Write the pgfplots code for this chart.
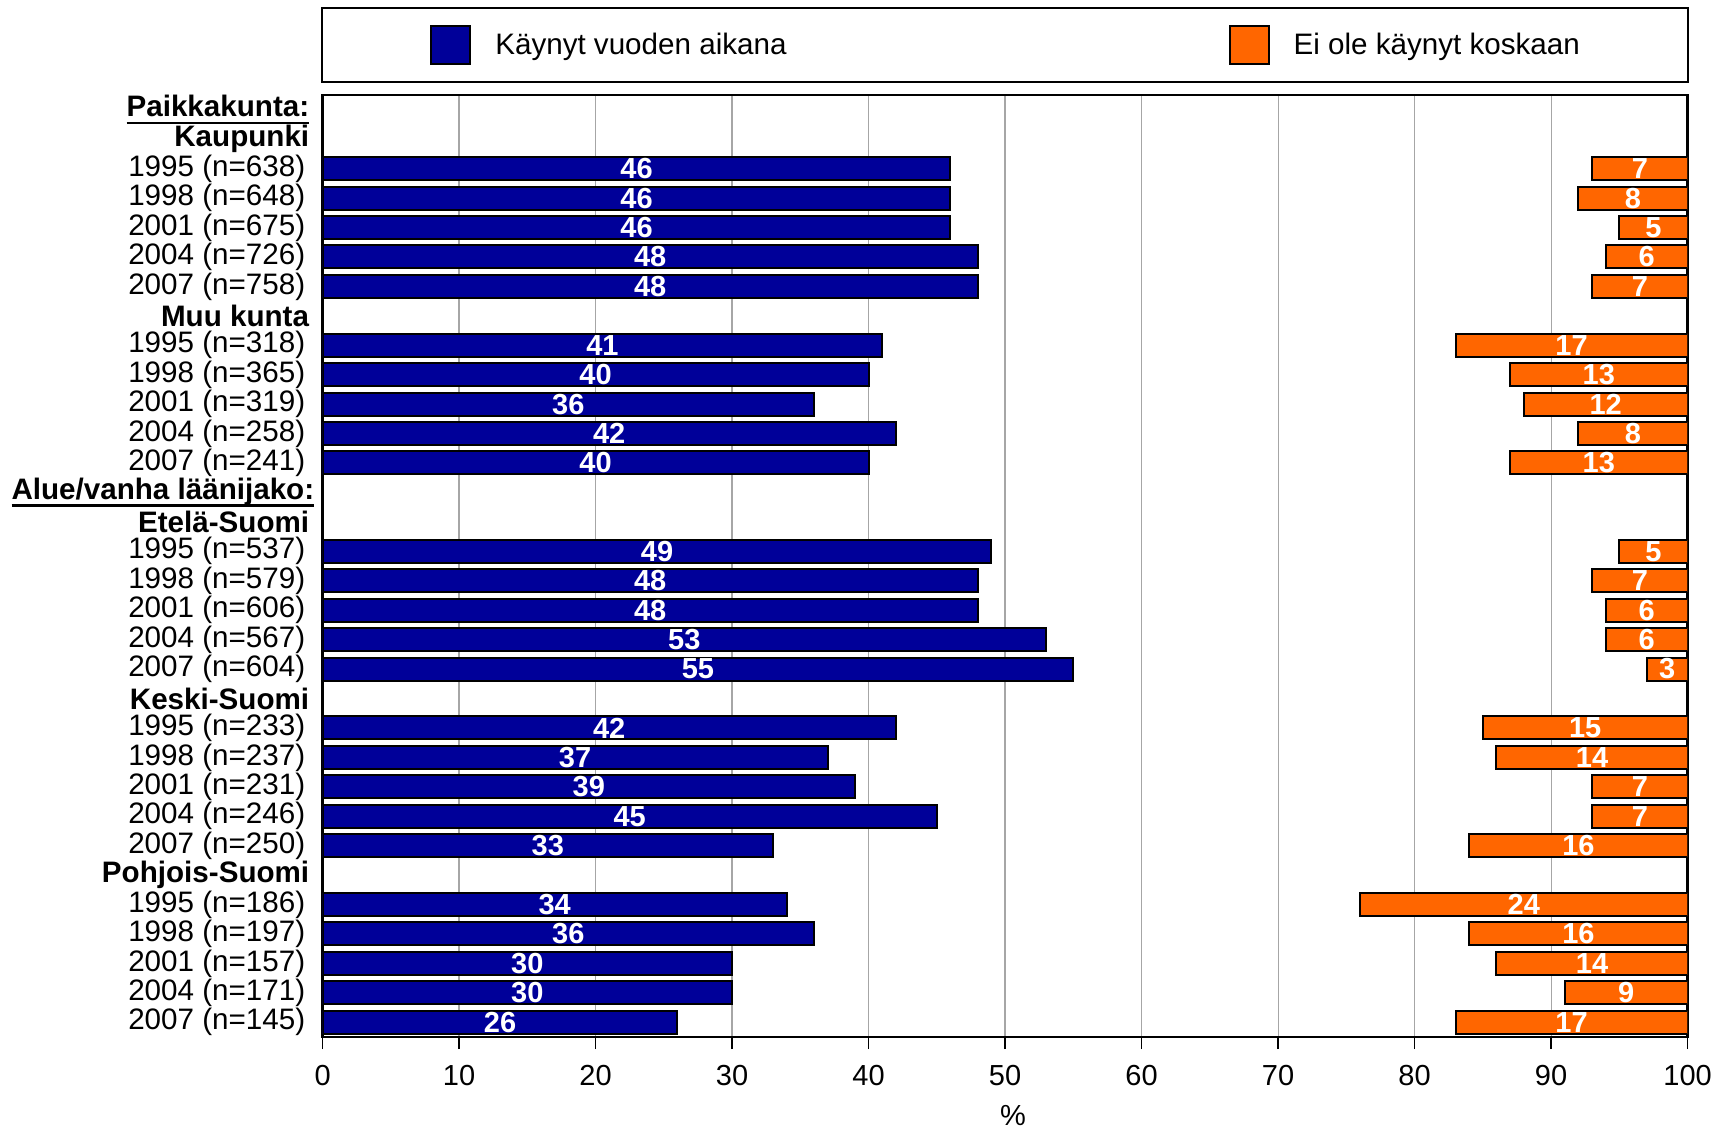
\documentclass[border=0pt]{standalone}
\usepackage{pgfplots}
\usepackage{pgfplotstable}
\pgfplotsset{compat=1.18}
\usepackage{fontspec}
\setmainfont{Liberation Sans}
\definecolor{navyc}{RGB}{0,0,153}
\definecolor{orangec}{RGB}{255,102,0}
\newcommand\ul[1]{\setbox0=\hbox{#1}\rlap{\rule[-4pt]{\wd0}{1.4pt}}\box0}
\newcommand\hd[1]{\textbf{#1}\kern-2pt}
\pgfplotsset{sq legend/.style={legend image code/.code={\draw[##1, line width=1pt] (0pt,-9.5pt) rectangle (19.5pt,9.5pt);}}}

\pgfplotstableread{
row blue orange
3 46 7
4 46 8
5 46 5
6 48 6
7 48 7
9 41 17
10 40 13
11 36 12
12 42 8
13 40 13
16 49 5
17 48 7
18 48 6
19 53 6
20 55 3
22 42 15
23 37 14
24 39 7
25 45 7
26 33 16
28 34 24
29 36 16
30 30 14
31 30 9
32 26 17
}\datatable

\begin{document}
\begin{tikzpicture}
\path[use as bounding box] (-161.3pt,-46pt) rectangle (696.2pt,518.5pt);
\begin{axis}[
  at={(0,0)}, anchor=south west,
  scale only axis, width=682.5pt, height=471pt,
  xmin=0, xmax=100, ymin=0.5, ymax=32.5, y dir=reverse,
  xtick={0,10,...,100},
  xmajorgrids, grid style={gray!70, line width=0.6pt},
  ytick={1,...,32},
  yticklabels={
    {\textbf{\ul{Paikkakunta:}}\kern-2pt},{\hd{Kaupunki}},
    1995 (n=638),1998 (n=648),2001 (n=675),2004 (n=726),2007 (n=758),
    {\hd{Muu kunta}},
    1995 (n=318),1998 (n=365),2001 (n=319),2004 (n=258),2007 (n=241),
    {\textbf{\ul{Alue/vanha läänijako:}}\kern-4.5pt},{\hd{Etelä-Suomi}},
    1995 (n=537),1998 (n=579),2001 (n=606),2004 (n=567),2007 (n=604),
    {\hd{Keski-Suomi}},
    1995 (n=233),1998 (n=237),2001 (n=231),2004 (n=246),2007 (n=250),
    {\hd{Pohjois-Suomi}},
    1995 (n=186),1998 (n=197),2001 (n=157),2004 (n=171),2007 (n=145)},
  ytick style={draw=none},
  xtick pos=bottom,
  xtick align=outside, major tick length=6pt,
  xtick style={black, line width=0.8pt},
  axis line style={line width=1.2pt},
  yticklabel style={font=\fontsize{14.8}{15}\selectfont, inner xsep=8.5pt},
  xticklabel style={font=\fontsize{14.5}{15}\selectfont, yshift=-4.5pt},
  /pgf/number format/assume math mode=true,
  xlabel={\%},
  xlabel style={font=\fontsize{14.5}{15}\selectfont, at={(axis description cs:0.5,0)}, anchor=center, yshift=-39.5pt, xshift=4pt},
]
\addplot[xbar, bar width=11.5pt, bar shift=0pt, fill=navyc, draw=black, line width=1pt]
  table[x=blue, y=row] \datatable;
\addplot[draw=none, mark=none, nodes near coords, nodes near coords align=center,
  point meta=explicit symbolic,
  every node near coord/.append style={font=\fontsize{14.5}{15}\bfseries, text=white, inner sep=0pt}]
  table[x expr=\thisrow{blue}/2, y=row, meta=blue] \datatable;
\end{axis}
\begin{axis}[
  at={(0,0)}, anchor=south west,
  scale only axis, width=682.5pt, height=471pt,
  xmin=0, xmax=100, x dir=reverse, ymin=0.5, ymax=32.5, y dir=reverse,
  hide axis,
  legend style={at={(0.5,1)}, anchor=south, yshift=6pt, draw=black, line width=1.2pt,
    inner xsep=54pt, inner ysep=8.5pt, legend columns=2,
    font=\fontsize{14.8}{16}\selectfont,
    nodes={inner sep=0pt},
    /tikz/every odd column/.append style={column sep=12pt},
    /tikz/every even column/.append style={column sep=221pt}},
  legend cell align=left,
]
\addlegendimage{fill=navyc, draw=black, line width=1pt, sq legend}
\addlegendentry{Käynyt vuoden aikana}
\addplot[xbar, bar width=11.5pt, bar shift=0pt, fill=orangec, draw=black, line width=1pt, sq legend]
  table[x=orange, y=row] \datatable;
\addlegendentry{Ei ole käynyt koskaan}
\addplot[draw=none, mark=none, nodes near coords, nodes near coords align=center,
  point meta=explicit symbolic, forget plot,
  every node near coord/.append style={font=\fontsize{14.5}{15}\bfseries, text=white, inner sep=0pt}]
  table[x expr=\thisrow{orange}/2, y=row, meta=orange] \datatable;
\end{axis}
\end{tikzpicture}
\end{document}
